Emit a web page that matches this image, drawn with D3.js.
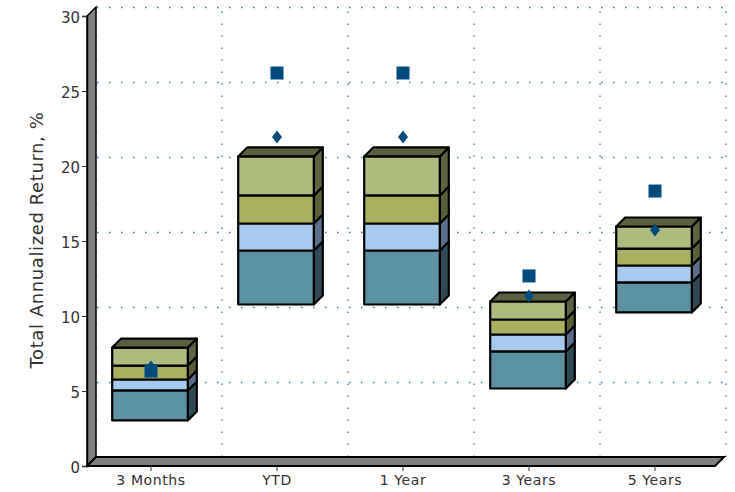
<!DOCTYPE html>
<html><head><meta charset="utf-8">
<script src="https://cdn.jsdelivr.net/npm/d3@7/dist/d3.min.js"></script>
<style>html,body{margin:0;padding:0;background:#fff}svg{display:block}text{font-family:"DejaVu Sans",sans-serif;fill:#333}</style>
</head><body><div id="c"></div>
<script>
const categories=["3 Months","YTD","1 Year","3 Years","5 Years"];
const floorValues=[3.07,10.8,10.8,5.2,10.27];
const seriesA=[2.0,3.6,3.6,2.47,2.0];
const seriesB=[0.73,1.8,1.8,1.13,1.13];
const seriesC=[0.93,1.87,1.87,1.0,1.13];
const seriesD=[1.2,2.6,2.6,1.2,1.47];
const squareValues=[6.33,26.2,26.2,12.67,18.33];
const diamondValues=[6.6,21.93,21.93,11.33,15.73];
const yTicks=[0,5,10,15,20,25,30];
const yTitle="Total Annualized Return, %";
const segFront=["#5d92a4","#a6caf0","#a9b05f","#adbb7e"];
const segSide=["#2f4a54","#5a6f8c","#5a5f38","#5c6340"];
const topColor="#5c6040",wallColor="#808080",markColor="#004b7d",gridColor="#2f7ca6";

const W=735,H=492,dx=9,dy=9;
const x=d3.scaleBand().domain(categories).range([87,717]).paddingInner(0).paddingOuter(0);
const y=d3.scaleLinear().domain([0,30]).range([466,16]);
const barW=x.bandwidth()*0.6;
const svg=d3.select("#c").append("svg").attr("width",W).attr("height",H);

const gridG=svg.append("g").attr("fill","none").attr("stroke",gridColor).attr("stroke-width",1.3).attr("stroke-dasharray","1.5 10.5");
yTicks.slice(1).forEach(v=>gridG.append("line").attr("x1",x.range()[0]+dx+1).attr("x2",x.range()[1]+dx+1).attr("y1",y(v)-dy+0.5).attr("y2",y(v)-dy+0.5));
categories.forEach((c,i)=>gridG.append("line").attr("x1",x(c)+x.bandwidth()+dx).attr("x2",x(c)+x.bandwidth()+dx).attr("y1",y(0)-dy).attr("y2",y(30)-dy));
gridG.append("line").attr("x1",x.range()[0]+dx).attr("x2",x.range()[0]+dx).attr("y1",y(0)-dy).attr("y2",y(30)-dy);

const x0=x.range()[0],x1=x.range()[1];
svg.append("path").attr("d",`M${x0},${y(0)}L${x0},${y(30)}L${x0+dx},${y(30)-dy}L${x0+dx},${y(0)-dy}Z`).attr("fill",wallColor).attr("stroke","#000").attr("stroke-width",1.5);
svg.append("path").attr("d",`M${x0},${y(0)}L${x0+dx},${y(0)-dy}L${x1+dx-2},${y(0)-dy}L${x1-2},${y(0)}Z`).attr("fill",wallColor).attr("stroke","#000").attr("stroke-width",2);

const yG=svg.append("g").attr("transform",`translate(${x0},0)`).call(d3.axisLeft(y).tickValues(yTicks).tickSize(5).tickPadding(2).tickFormat(d3.format("d")));
yG.select(".domain").attr("stroke","#000").attr("stroke-width",1.5);
yG.selectAll("text").style("font-size","15px").attr("dy","0.45em");
const xG=svg.append("g").attr("transform",`translate(1,${y(0)})`).call(d3.axisBottom(x).tickSize(5).tickPadding(4));
xG.select(".domain").remove();
xG.selectAll("text").style("font-size","14px").style("letter-spacing","0.6px");
svg.selectAll(".tick line").attr("stroke","#333");

svg.append("text").attr("transform","translate(43,240) rotate(-90)").attr("text-anchor","middle").style("font-size","18px").style("letter-spacing","0.6px").text(yTitle);

const rows=categories.map((c,i)=>({c,f:floorValues[i],a:seriesA[i],b:seriesB[i],g:seriesC[i],d:seriesD[i]}));
const stack=d3.stack().keys(["a","b","g","d"])(rows);
rows.forEach((r,i)=>{
  const L=x(r.c)+x.bandwidth()*0.2,R=L+barW;
  const g=svg.append("g").attr("transform","translate(0,0.5)").attr("stroke","#000").attr("stroke-width",2.2).attr("stroke-linejoin","round");
  stack.forEach((s,k)=>{
    const yb=y(s[i][0]+r.f),yt=y(s[i][1]+r.f);
    g.append("path").attr("d",`M${R},${yb}L${R+dx},${yb-dy}L${R+dx},${yt-dy}L${R},${yt}Z`).attr("fill",segSide[k]);
    g.append("rect").attr("x",L).attr("y",yt).attr("width",barW).attr("height",yb-yt).attr("fill",segFront[k]);
  });
  const yt=y(stack[3][i][1]+r.f);
  g.append("path").attr("d",`M${L},${yt}L${L+dx},${yt-dy}L${R+dx},${yt-dy}L${R},${yt}Z`).attr("fill",topColor);
});

const cx=c=>x(c)+x.bandwidth()/2+1;
svg.append("g").selectAll("rect").data(categories).join("rect")
  .attr("x",c=>cx(c)-6.5).attr("width",13).attr("height",13).attr("y",(c,i)=>y(squareValues[i])-6.5).attr("fill",markColor);
svg.append("g").selectAll("path").data(categories).join("path")
  .attr("d","M0,-6.5L5,0L0,6.5L-5,0Z").attr("fill",markColor)
  .attr("transform",(c,i)=>`translate(${cx(c)},${y(diamondValues[i])})`);
</script></body></html>
